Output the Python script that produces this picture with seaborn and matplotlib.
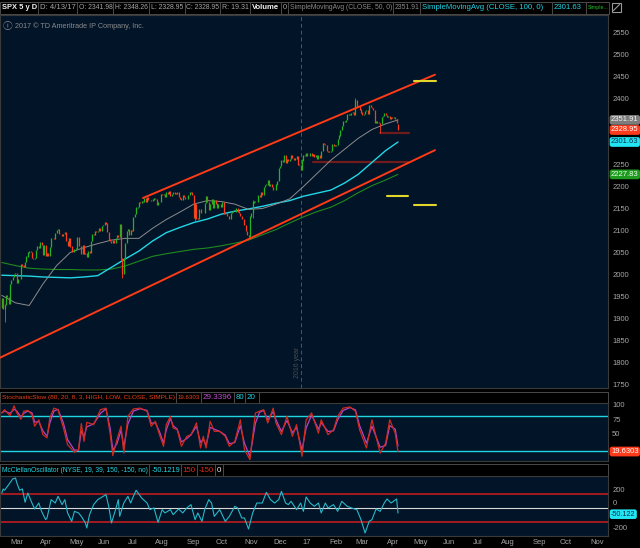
# % Import libraries
import matplotlib.pyplot as plt
import matplotlib.transforms as mtransforms
import numpy as np
import pandas as pd
import seaborn as sns
from matplotlib.patches import Rectangle

# % Chart values: SPX daily bars, 22 Feb 2016 - 13 Apr 2017
first_day = "2016-02-22"
axis_end_day = "2017-11-30"
market_holidays = [
    "2016-03-25", "2016-05-30", "2016-07-04", "2016-09-05", "2016-11-24",
    "2016-12-26", "2017-01-02", "2017-01-16", "2017-02-20", "2017-04-14",
    "2017-05-29", "2017-07-04", "2017-09-04", "2017-11-23",
]

closes = [
    # Feb 2016
    1945.5, 1921.3, 1929.8, 1951.7, 1948.1, 1932.2,
    # Mar
    1978.4, 1986.5, 1993.4, 1999.99, 2001.8, 1979.3, 1989.3, 1989.6, 2022.2, 2019.6,
    2015.9, 2027.2, 2040.6, 2049.6, 2051.6, 2049.8, 2036.7, 2035.9, 2037.1, 2055.0,
    2063.9, 2059.7,
    # Apr
    2072.8, 2066.1, 2045.2, 2066.7, 2041.9, 2047.6, 2042.0, 2061.7, 2082.4, 2082.8,
    2080.7, 2094.3, 2100.8, 2102.4, 2091.5, 2091.6, 2087.8, 2091.7, 2095.2, 2075.8,
    2065.3,
    # May
    2081.4, 2063.4, 2051.1, 2050.6, 2057.1, 2058.7, 2084.4, 2064.5, 2064.1, 2046.6,
    2066.7, 2047.2, 2047.6, 2040.0, 2052.3, 2048.0, 2076.1, 2090.5, 2090.1, 2099.1,
    2097.0,
    # Jun
    2099.3, 2105.3, 2099.1, 2109.4, 2112.1, 2119.1, 2115.5, 2096.1, 2079.1, 2075.3,
    2071.5, 2078.0, 2071.2, 2083.3, 2088.9, 2085.5, 2113.3, 2037.4, 2000.5, 2036.1,
    2070.8, 2098.9,
    # Jul
    2103.0, 2088.6, 2099.7, 2097.9, 2129.9, 2137.2, 2152.1, 2152.4, 2163.8, 2161.7,
    2166.9, 2163.8, 2173.0, 2165.2, 2175.0, 2168.5, 2169.2, 2166.6, 2170.1, 2173.6,
    # Aug
    2170.8, 2157.0, 2163.8, 2164.3, 2182.9, 2180.9, 2181.7, 2175.5, 2186.0, 2184.1,
    2190.2, 2178.2, 2182.2, 2187.0, 2183.9, 2182.6, 2186.9, 2175.4, 2172.5, 2169.0,
    2180.4, 2176.1, 2171.0,
    # Sep
    2170.9, 2180.0, 2186.5, 2186.2, 2181.3, 2127.8, 2159.0, 2127.0, 2125.8, 2147.3,
    2139.2, 2139.1, 2139.8, 2163.1, 2177.2, 2164.7, 2146.1, 2159.9, 2171.4, 2151.1,
    2168.3,
    # Oct
    2161.2, 2150.5, 2159.7, 2160.8, 2153.7, 2163.7, 2136.7, 2139.2, 2132.6, 2133.0,
    2126.5, 2139.6, 2144.3, 2141.3, 2141.2, 2151.3, 2143.2, 2139.4, 2133.0, 2126.4,
    2126.2,
    # Nov
    2111.7, 2097.9, 2088.7, 2085.2, 2131.5, 2139.6, 2163.3, 2167.5, 2164.4, 2164.2,
    2180.4, 2176.9, 2187.1, 2181.9, 2198.2, 2202.9, 2204.7, 2213.4, 2201.7, 2204.7,
    2198.8,
    # Dec
    2191.1, 2192.0, 2204.7, 2212.2, 2241.4, 2246.2, 2259.5, 2257.0, 2271.7, 2253.3,
    2262.0, 2258.1, 2262.5, 2270.8, 2265.2, 2261.0, 2263.8, 2268.9, 2249.9, 2249.3,
    2238.8,
    # Jan 2017
    2257.8, 2270.8, 2269.0, 2277.0, 2268.9, 2268.9, 2275.3, 2270.4, 2274.6, 2267.9,
    2271.9, 2263.7, 2271.3, 2265.2, 2280.1, 2298.4, 2296.7, 2294.7, 2280.9, 2278.9,
    # Feb
    2279.6, 2280.9, 2297.4, 2292.6, 2293.1, 2294.7, 2307.9, 2316.1, 2328.3, 2337.6,
    2349.3, 2347.2, 2351.2, 2365.4, 2362.8, 2363.8, 2367.3, 2369.8, 2363.6,
    # Mar
    2396.0, 2381.9, 2383.1, 2375.3, 2368.4, 2363.0, 2364.9, 2372.6, 2373.5, 2365.5,
    2385.3, 2381.4, 2378.3, 2373.5, 2344.0, 2348.5, 2346.0, 2344.0, 2341.6, 2358.6,
    2361.1, 2368.1, 2362.7,
    # Apr
    2358.8, 2360.2, 2353.0, 2357.5, 2355.5, 2357.2, 2353.8, 2344.9, 2328.95,
]
first_open = 1924.4
last_open = 2341.98
last_high = 2348.26
last_low = 2328.95
last_date = "4/13/17"

# bars whose wicks stick out well beyond the body
wick_days = [2, 87, 88, 141, 181, 183, 219, 258, 276]
wick_low = [1891.0, 2032.6, 1991.7, 2119.1, 2083.8, 2128.2, 2245.1, 2380.0, 2322.3]
wick_high = [1932.0, 2113.3, 2032.0, 2163.0, 2099.0, 2170.0, 2263.9, 2401.0, 2344.0]

sma_days = [0, 10, 20, 30, 40, 50, 60, 70, 80, 90, 100, 110, 120, 130, 140, 150,
            160, 170, 180, 190, 200, 210, 220, 230, 240, 250, 260, 270, 280, 289]
sma50 = [1952, 1935, 1929, 1978, 2020, 2050, 2061, 2070, 2078, 2082, 2082, 2105,
         2125, 2142, 2160, 2168, 2166, 2160, 2148, 2150, 2160, 2172, 2200, 2230,
         2260, 2285, 2310, 2330, 2343, 2351.91]
sma100 = [1998, 1997, 1996, 1994, 1993, 1992, 1994, 1997, 2016, 2035, 2053, 2076,
          2095, 2107, 2118, 2126, 2137, 2144, 2149, 2155, 2162, 2168, 2178, 2185,
          2192, 2208, 2228, 2255, 2282, 2301.63]
sma200 = [2027, 2020, 2014, 2012, 2011, 2011, 2010, 2010, 2012, 2019, 2030, 2041,
          2047, 2052, 2057, 2060, 2065, 2071, 2078, 2090, 2102, 2117, 2131, 2143,
          2153, 2168, 2186, 2202, 2215, 2227.83]

# drawn trend channel, support lines and targets (bar number, price)
channel_top_days = [103, 316]
channel_top_price = [2174, 2455]
channel_bottom_days = [-2, 316]
channel_bottom_price = [1809, 2283]
support_days = [[227, 296], [276, 297]]
support_price = [2257, 2322]
target_days = [[301, 317], [281, 296], [301, 317]]
target_price = [2440.6, 2179, 2158.7]

stoch_days = [0, 2, 6, 9, 11, 14, 16, 19, 22, 24, 27, 30, 33, 35, 38, 41, 45, 48,
              53, 56, 58, 60, 62, 67, 72, 76, 79, 81, 84, 87, 89, 92, 96, 101, 106,
              109, 112, 115, 118, 120, 123, 125, 128, 131, 135, 138, 142, 145, 147,
              149, 152, 155, 159, 163, 166, 170, 174, 177, 181, 185, 188, 191, 194,
              198, 200, 204, 208, 212, 215, 219, 222, 226, 231, 233, 238, 242, 245,
              249, 254, 258, 261, 266, 270, 276, 280, 283, 287, 289]
stoch_k = [85.7, 91.4, 81, 98, 85.7, 75, 88.6, 90, 83, 63, 74, 48.6, 43, 77, 94,
           91.4, 60, 31.4, 18.3, 23, 67.4, 37, 69.7, 65.7, 91.4, 94, 51, 12.6, 40,
           63, 17, 80, 92.6, 94, 88.6, 62.9, 71.4, 48.6, 28.6, 65.7, 80, 60, 57,
           28.6, 45.7, 48.6, 68.6, 25.7, 45.7, 25.7, 71.4, 54.3, 54.3, 45.7, 28.6,
           37, 74, 22.9, 5.7, 85.7, 88.6, 91.4, 68.6, 94, 68.6, 48.6, 80, 45.7,
           65.7, 11.4, 74, 85.7, 51, 74, 48.6, 57, 80, 94, 96, 88.6, 57, 25.7, 74,
           17, 34, 74, 51, 19.6303]
stoch_d = [86, 89, 85, 92, 89, 79, 85, 89, 86, 70, 71, 55, 46, 68, 89, 92, 68, 40,
           22, 22, 55, 45, 62, 67, 85, 93, 60, 22, 33, 56, 28, 67, 89, 93, 90, 68,
           69, 54, 34, 57, 76, 64, 58, 36, 42, 48, 63, 35, 41, 30, 61, 58, 54, 48,
           33, 35, 64, 34, 11, 68, 87, 90, 74, 88, 74, 54, 73, 52, 61, 22, 60, 82,
           58, 69, 54, 55, 74, 90, 95, 91, 64, 34, 63, 27, 30, 64, 58, 29.3396]

mc_days = [0, 1, 2, 5, 8, 10, 11, 13, 15, 17, 19, 22, 24, 27, 29, 32, 33, 36, 39,
           41, 44, 46, 48, 51, 53, 56, 58, 61, 62, 64, 67, 70, 74, 76, 78, 80, 83,
           85, 86, 89, 92, 94, 96, 98, 102, 106, 108, 111, 114, 117, 119, 123, 125,
           129, 132, 135, 138, 141, 143, 146, 148, 151, 153, 155, 159, 163, 166,
           170, 172, 175, 177, 180, 183, 186, 190, 193, 196, 199, 202, 204, 207,
           209, 211, 215, 218, 220, 222, 225, 228, 231, 233, 236, 238, 242, 245,
           248, 252, 255, 259, 262, 265, 268, 270, 273, 276, 279, 281, 284, 288, 289]
mc_values = [162, 205, 191, 250, 311, 321, 268, 191, 205, 64, 162, 56, -7, 56, -32,
             -120, -102, 92, 56, 127, 39, 92, -49, -138, -32, -49, -85, -155, -208,
             -67, 39, 92, 127, 145, 21, -155, -14, 92, -85, 56, 127, 56, 127, 191,
             109, 56, -14, 4, -148, -14, -49, -14, -67, -7, -49, 4, 39, -120, -49,
             -138, -14, 92, 56, -85, -14, -138, -85, 21, 4, -102, -102, -219, -49,
             56, 56, 169, 92, 56, 92, 180, 56, 39, 74, -14, 56, -32, 120, 56, 21,
             56, -49, 56, 4, 39, -32, 74, 21, 4, -14, -120, -261, -138, -120, -7,
             -32, 56, 99, 56, 99, -50.1219]

price_ticks = [2550, 2500, 2450, 2400, 2250, 2200, 2150, 2100, 2050, 2000, 1950,
               1900, 1850, 1800, 1750]

# % Colours
panel_bg = "#021428"
up_col = "#22b422"
down_col = "#ff3b1c"
grey_txt = "#a6a6a6"
cyan = "#22d6e6"
green_txt = "#22c022"

# % Trading-day calendar (x axis is bar number, like thinkorswim)
cal = pd.bdate_range(first_day, axis_end_day, freq="C", holidays=market_holidays)
cal_df = pd.DataFrame({"date": cal, "day": np.arange(len(cal))})
month_first = cal_df.groupby([cal_df["date"].dt.year, cal_df["date"].dt.month]).first()
month_first = month_first.iloc[1:]
month_first = month_first[month_first["date"] <= "2017-11-10"]
month_labels = [d.strftime("%y") if d.month == 1 else d.strftime("%b")
                for d in month_first["date"]]
year_break = cal_df.loc[cal_df["date"].dt.year == 2017, "day"].iloc[0] - 0.5

days = np.arange(len(closes))
opens = np.r_[first_open, closes[:-1]]
opens[-1] = last_open
closes_arr = np.array(closes)
body_lo = np.minimum(opens, closes_arr)
body_hi = np.maximum(opens, closes_arr) + 0.6
candle_cols = np.where(closes_arr >= opens, up_col, down_col)

# % Figure layout in pixels
sns.set_theme(style="dark")
plt.rcParams["font.family"] = ["Liberation Sans", "DejaVu Sans"]
W, H = 640, 548
fig = plt.figure(figsize=(W / 100, H / 100), dpi=100)
fig.patch.set_facecolor("black")


def px_axes(x0, y0, x1, y1, **kw):
    return fig.add_axes([x0 / W, 1 - y1 / H, (x1 - x0) / W, (y1 - y0) / H], **kw)


overlay = px_axes(0, 0, W, H, zorder=0)
overlay.set_xlim(0, W)
overlay.set_ylim(H, 0)
overlay.axis("off")
ax_px = px_axes(0, 15, 608, 388, zorder=1)
ax_st = px_axes(0, 403, 608, 461, zorder=1)
ax_mc = px_axes(0, 476, 608, 536, zorder=1)
xlim = (-1.3, 442.2)

for ax in (ax_px, ax_st, ax_mc):
    ax.set_facecolor(panel_bg)
    ax.set_xlim(*xlim)
    for s in ax.spines.values():
        s.set_color("#3a3a3a")
        s.set_linewidth(0.8)
    ax.yaxis.tick_right()
    ax.tick_params(axis="y", length=0, pad=3, labelsize=5.5, labelcolor=grey_txt)

# % Price panel
ax_px.set_ylim(1741, 2591)
ax_px.axvline(year_break, color="#555555", lw=0.7, ls=(0, (4, 3)), zorder=1)
ax_px.text(year_break - 3, 1800, "2016 year", rotation=90, color="#4c4c4c",
           fontsize=5, ha="center", va="center")

ax_px.vlines(days, body_lo, body_hi, colors=candle_cols, linewidth=0.9, zorder=4)
ax_px.vlines(wick_days, wick_low, wick_high, colors=candle_cols[wick_days],
             linewidth=0.6, zorder=4)

sma_df = pd.DataFrame({"day": sma_days, "sma50": sma50, "sma100": sma100,
                       "sma200": sma200})
sns.lineplot(data=sma_df, x="day", y="sma200", color="#1f8a1f", linewidth=0.8,
             ax=ax_px, zorder=3)
sns.lineplot(data=sma_df, x="day", y="sma100", color=cyan, linewidth=1.0,
             ax=ax_px, zorder=3)
sns.lineplot(data=sma_df, x="day", y="sma50", color="#8c8c8c", linewidth=0.7,
             ax=ax_px, zorder=3)

ax_px.plot(channel_top_days, channel_top_price, color="#ff3a16", lw=1.4, zorder=5)
ax_px.plot(channel_bottom_days, channel_bottom_price, color="#ff3a16", lw=1.4, zorder=5)
for d, p in zip(support_days, support_price):
    ax_px.plot(d, [p, p], color="#701c1c", lw=1.6, zorder=2)
for d, p in zip(target_days, target_price):
    ax_px.plot(d, [p, p], color="#e2d62a", lw=1.5, zorder=5)

ax_px.set_xticks([])
ax_px.set_yticks(price_ticks)
ax_px.set_xlabel("")
ax_px.set_ylabel("")
ax_px.text(0.005, 0.971, "\u24d8", transform=ax_px.transAxes, color="#8a8a8a",
           fontsize=7, va="center", ha="left",
           family=["Noto Sans CJK JP", "DejaVu Sans"])
ax_px.text(0.024, 0.971, "2017 \u00a9 TD Ameritrade IP Company, Inc.",
           transform=ax_px.transAxes, color="#8a8a8a", fontsize=5.2, va="center")


def badge(ax, value, text, fc, tc, size=5.5):
    tr = mtransforms.blended_transform_factory(ax.transAxes, ax.transData)
    ax.text(1.005, value, text, transform=tr, ha="left", va="center", fontsize=size,
            color=tc, clip_on=False,
            bbox=dict(boxstyle="round,pad=0.18,rounding_size=0.3", fc=fc, ec="none"))


badge(ax_px, sma50[-1], f"{sma50[-1]:.2f}", "#7c7c7c", "#f2f2f2")
badge(ax_px, closes[-1], f"{closes[-1]:.2f}", "#ff3b1c", "#ffffff")
badge(ax_px, sma100[-1], f"{sma100[-1]:.2f}", "#22e4f2", "#06304a")
badge(ax_px, sma200[-1], f"{sma200[-1]:.2f}", "#1e9a1e", "#e8ffe8")

# % Stochastic panel
ax_st.set_ylim(3.4, 102.8)
stoch_df = pd.DataFrame({"day": stoch_days, "k": stoch_k, "d": stoch_d})
ax_st.axhline(80, color="#1fd6e0", lw=1.0)
ax_st.axhline(20, color="#1fd6e0", lw=1.0)
sns.lineplot(data=stoch_df, x="day", y="d", color="#b245c8", linewidth=0.9, ax=ax_st)
sns.lineplot(data=stoch_df, x="day", y="k", color="#d02a1c", linewidth=0.9, ax=ax_st)
ax_st.set_yticks([100, 75, 50])
ax_st.set_xticks([])
ax_st.set_xlabel("")
ax_st.set_ylabel("")
badge(ax_st, stoch_k[-1], f"{stoch_k[-1]:.4f}", "#ff3b1c", "#ffffff")

# % McClellan panel
ax_mc.set_ylim(-293, 342)
mc_df = pd.DataFrame({"day": mc_days, "mc": mc_values})
ax_mc.axhline(150, color="#d01c1c", lw=1.1)
ax_mc.axhline(-150, color="#d01c1c", lw=1.1)
ax_mc.axhline(0, color="#d8d8d8", lw=0.8)
sns.lineplot(data=mc_df, x="day", y="mc", color="#27b8c8", linewidth=0.8, ax=ax_mc)
ax_mc.set_yticks([200, 0, -200])
ax_mc.set_yticklabels(["200", "", "-200"])
tr_mc = mtransforms.blended_transform_factory(ax_mc.transAxes, ax_mc.transData)
ax_mc.text(1.008, 12, "0", transform=tr_mc, ha="left", va="bottom", fontsize=5.5,
           color=grey_txt, clip_on=False)
ax_mc.set_xticks(month_first["day"].to_numpy())
ax_mc.set_xticklabels(month_labels, ha="left")
ax_mc.tick_params(axis="x", length=0, pad=2, labelsize=5.5, labelcolor=grey_txt)
ax_mc.set_xlabel("")
ax_mc.set_ylabel("")
badge(ax_mc, mc_values[-1] - 12, f"{mc_values[-1]:.3f}", "#22e4f2", "#06304a", 5.2)

# % Header strips
renderer = fig.canvas.get_renderer()


def header_row(y0, y1, cells, frame_to=None, size=5.8):
    if frame_to:
        overlay.add_patch(Rectangle((0, y0), frame_to, y1 - y0, fc="black",
                                    ec="#4a4a4a", lw=0.7))
    for text, x0, x1, color, weight in cells:
        overlay.add_patch(Rectangle((x0, y0), x1 - x0, y1 - y0, fc="black",
                                    ec="#4a4a4a", lw=0.7))
        t = overlay.text(x0 + 2, (y0 + y1) / 2, text, color=color, fontsize=size,
                         fontweight=weight, ha="left", va="center")
        w = t.get_window_extent(renderer).width
        if w > x1 - x0 - 3:
            t.set_fontsize(t.get_fontsize() * (x1 - x0 - 3) / w)


main_cells = [
    ("SPX 5 y D", 0, 37.6, "#f2f2f2", "bold"),
    (f"D: {last_date}", 37.6, 76.7, grey_txt, "normal"),
    (f"O: {last_open:.2f}", 76.7, 113, grey_txt, "normal"),
    (f"H: {last_high:.2f}", 113, 149, grey_txt, "normal"),
    (f"L: {last_low:.2f}", 149, 184.5, grey_txt, "normal"),
    (f"C: {closes[-1]:.2f}", 184.5, 220.4, grey_txt, "normal"),
    (f"R: {last_high - last_low:.2f}", 220.4, 249.8, grey_txt, "normal"),
    ("Volume", 249.8, 280.8, "#f2f2f2", "bold"),
    ("0", 280.8, 287.8, grey_txt, "normal"),
    ("SimpleMovingAvg (CLOSE, 50, 0)", 287.8, 392.7, "#8c8c8c", "normal"),
    (f"{sma50[-1]:.2f}", 392.7, 420.4, "#8c8c8c", "normal"),
    ("SimpleMovingAvg (CLOSE, 100, 0)", 420.4, 551.8, cyan, "normal"),
    (f"{sma100[-1]:.2f}", 551.8, 585.7, cyan, "normal"),
    ("Simple...", 585.7, 609, green_txt, "normal"),
]
header_row(1.5, 14, main_cells, size=5.6)
overlay.add_patch(Rectangle((612, 3), 9, 9, fc="none", ec="#9a9a9a", lw=0.8))
overlay.plot([613.5, 619.5], [10.5, 4.5], color="#9a9a9a", lw=0.8)

stoch_cells = [
    ("StochasticSlow (80, 20, 8, 3, HIGH, LOW, CLOSE, SIMPLE)", 0, 175.5,
     "#e8401c", "normal"),
    (f"{stoch_k[-1]:.4f}", 175.5, 200.8, "#e8401c", "normal"),
    (f"{stoch_d[-1]:.4f}", 200.8, 233.5, "#c050d0", "normal"),
    ("80", 233.5, 245, cyan, "normal"),
    ("20", 245, 259, cyan, "normal"),
]
header_row(392, 403, stoch_cells, frame_to=608)

mc_cells = [
    ("McClellanOscillator (NYSE, 19, 39, 150, -150, no)", 0, 149.3, cyan, "normal"),
    (f"{mc_values[-1]:.4f}", 149.3, 180.7, cyan, "normal"),
    ("150", 180.7, 196.7, "#e02a1c", "normal"),
    ("-150", 196.7, 215, "#e02a1c", "normal"),
    ("0", 215, 223.3, "#e8e8e8", "normal"),
]
header_row(464, 476, mc_cells, frame_to=608)

plt.savefig("out.png", dpi=100, facecolor="black")
